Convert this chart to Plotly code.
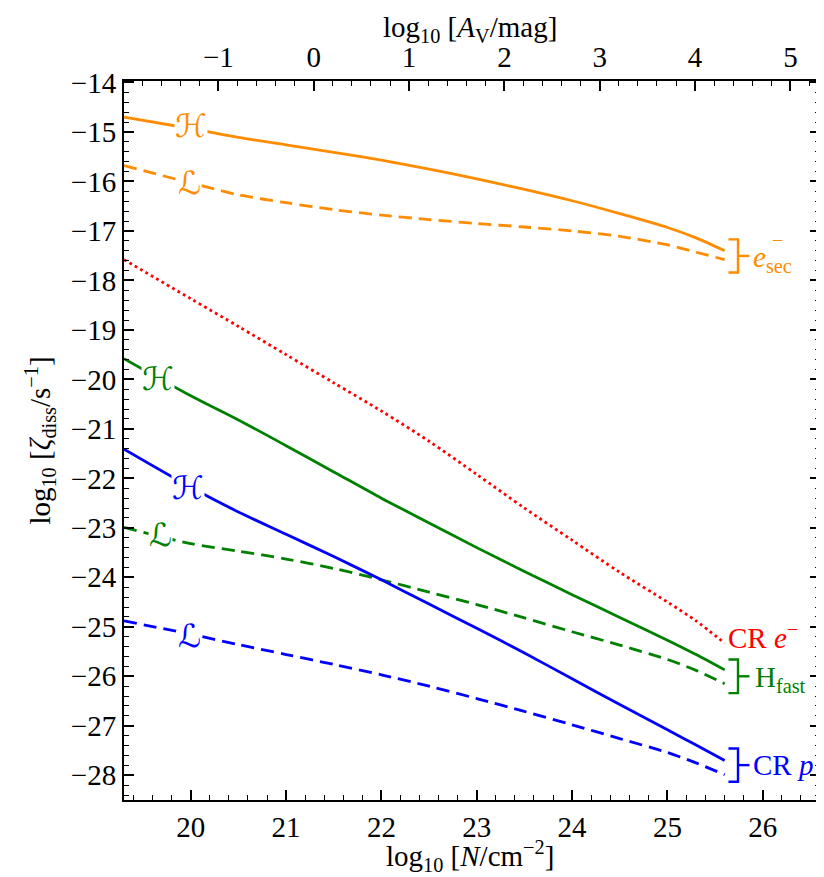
import plotly.graph_objects as go

# column density grid, log10 N [cm^-2]
log_n = [19.3, 20.0, 20.5, 21.0, 21.5, 22.0, 22.5, 23.0, 23.5, 24.0, 24.5, 25.0, 25.3, 25.6]

# log10 zeta_diss [s^-1]
esec_high = [-14.70, -14.93, -15.11, -15.26, -15.41, -15.57, -15.75, -15.95, -16.16, -16.39, -16.65, -16.93, -17.14, -17.40]
esec_low = [-15.68, -16.03, -16.27, -16.43, -16.57, -16.68, -16.77, -16.85, -16.92, -17.00, -17.11, -17.28, -17.43, -17.58]
cr_electron = [-17.58, -18.37, -18.93, -19.50, -20.07, -20.64, -21.25, -21.92, -22.60, -23.25, -23.90, -24.50, -24.88, -25.33]
hfast_high = [-19.58, -20.33, -20.82, -21.34, -21.87, -22.40, -22.90, -23.40, -23.88, -24.35, -24.81, -25.27, -25.56, -25.87]
hfast_low = [-22.99, -23.32, -23.47, -23.63, -23.82, -24.05, -24.30, -24.55, -24.82, -25.10, -25.37, -25.66, -25.88, -26.15]
crp_high = [-21.41, -22.18, -22.68, -23.13, -23.58, -24.05, -24.54, -25.03, -25.53, -26.05, -26.57, -27.08, -27.39, -27.70]
crp_low = [-24.88, -25.15, -25.36, -25.56, -25.76, -25.97, -26.20, -26.45, -26.71, -26.98, -27.26, -27.54, -27.75, -27.99]

# conversion offset log10 N - log10 A_V
av_offset = 21.29
x_range = [19.3, 26.6]
y_range = [-28.5, -13.97]

ORANGE = '#ff8c00'
RED = '#ff0000'
GREEN = '#008000'
BLUE = '#0000ff'
FONT = 'Liberation Serif, DejaVu Serif, serif'
SCRIPT_FONT = 'DejaVu Serif, DejaVu Sans, serif'

curves = [
    (esec_high, ORANGE, 'solid'),
    (esec_low, ORANGE, '13px,7px'),
    (cr_electron, RED, '2.8px,3.4px'),
    (hfast_high, GREEN, 'solid'),
    (hfast_low, GREEN, '13px,7px'),
    (crp_high, BLUE, 'solid'),
    (crp_low, BLUE, '13px,7px'),
]

fig = go.Figure()
for values, color, dash in curves:
    fig.add_trace(go.Scatter(
        x=log_n, y=values, mode='lines',
        line=dict(color=color, width=2.8, dash=dash, shape='spline', smoothing=0.8),
        showlegend=False, hoverinfo='skip',
    ))

# invisible trace so that the top A_V axis is drawn
fig.add_trace(go.Scatter(
    x=[x_range[0] - av_offset, x_range[1] - av_offset], y=y_range,
    xaxis='x2', mode='markers', marker=dict(opacity=0),
    showlegend=False, hoverinfo='skip',
))

# script H / L labels sitting in gaps of the lines
curve_labels = [
    ('\u210b', 20.0, -14.88, ORANGE),
    ('\u2112', 19.99, -16.03, ORANGE),
    ('\u210b', 19.66, -20.0, GREEN),
    ('\u210b', 19.97, -22.2, BLUE),
    ('\u2112', 19.68, -23.15, GREEN),
    ('\u2112', 19.99, -25.19, BLUE),
]
for text, x, y, color in curve_labels:
    fig.add_annotation(
        x=x, y=y, text='<i>' + text + '</i>', showarrow=False,
        font=dict(family=SCRIPT_FONT, size=32, color=color),
        bgcolor='white', borderpad=0,
    )

# brackets grouping the H / L pairs on the right
brackets = [
    (-17.17, -17.84, ORANGE),
    (-25.66, -26.34, GREEN),
    (-27.46, -28.13, BLUE),
]
bx, bx_hook, bx_tick = 25.74, 25.64, 25.86
for top, bottom, color in brackets:
    mid = (top + bottom) / 2
    fig.add_trace(go.Scatter(
        x=[bx_hook, bx, bx, bx_hook], y=[top, top, bottom, bottom],
        mode='lines', line=dict(color=color, width=2.4),
        showlegend=False, hoverinfo='skip',
    ))
    fig.add_trace(go.Scatter(
        x=[bx, bx_tick], y=[mid, mid],
        mode='lines', line=dict(color=color, width=2.4),
        showlegend=False, hoverinfo='skip',
    ))

group_labels = [
    ('<i>e</i><sub>sec</sub>', 25.88, (-17.17 - 17.84) / 2 - 0.06, ORANGE),
    ('H<sub>fast</sub>', 25.9, (-25.66 - 26.34) / 2 - 0.06, GREEN),
    ('CR <i>p</i>', 25.88, (-27.46 - 28.13) / 2, BLUE),
    ('CR <i>e</i><sup>\u2212</sup>', 25.61, -25.19, RED),
]
for text, x, y, color in group_labels:
    fig.add_annotation(
        x=x, y=y, text=text, showarrow=False, xanchor='left',
        font=dict(family=FONT, size=29, color=color),
    )
# superscript minus of e_sec, stacked above the subscript
fig.add_annotation(
    x=26.08, y=-17.18, text='\u2212', showarrow=False, xanchor='left',
    font=dict(family=FONT, size=20, color=ORANGE),
)

# axis titles placed as paper annotations
axis_titles = [
    ('log<sub>10</sub> [<i>N</i>/cm<sup>\u22122</sup>]', 0.497, -0.078, 0),
    ('log<sub>10</sub> [<i>A</i><sub>V</sub>/mag]', 0.497, 1.073, 0),
    ('log<sub>10</sub> [<i>\u03b6</i><sub>diss</sub>/s<sup>\u22121</sup>]', -0.122, 0.5, -90),
]
for text, x, y, angle in axis_titles:
    fig.add_annotation(
        x=x, y=y, xref='paper', yref='paper', text=text, showarrow=False,
        textangle=angle, xanchor='center', yanchor='middle',
        font=dict(family=FONT, size=29, color='black'),
    )

axis_common = dict(
    showline=True, linecolor='black', linewidth=2,
    ticks='inside', ticklen=10, tickwidth=1.5, tickcolor='black',
    showgrid=False, zeroline=False,
    tickfont=dict(family=FONT, size=29, color='black'),
)
minor_ticks = dict(dtick=0.2, ticks='inside', ticklen=5, tickwidth=1, tickcolor='black')

fig.update_layout(
    width=824, height=877,
    margin=dict(l=116, r=10, t=73, b=85),
    plot_bgcolor='white', paper_bgcolor='white',
    xaxis=dict(range=x_range, dtick=1, mirror=True, minor=minor_ticks, **axis_common),
    xaxis2=dict(
        range=[x_range[0] - av_offset, x_range[1] - av_offset], dtick=1,
        overlaying='x', side='top', minor=minor_ticks, **axis_common,
    ),
    yaxis=dict(range=y_range, dtick=1, mirror='ticks', minor=minor_ticks, **axis_common),
)

fig.write_html('out.html')
